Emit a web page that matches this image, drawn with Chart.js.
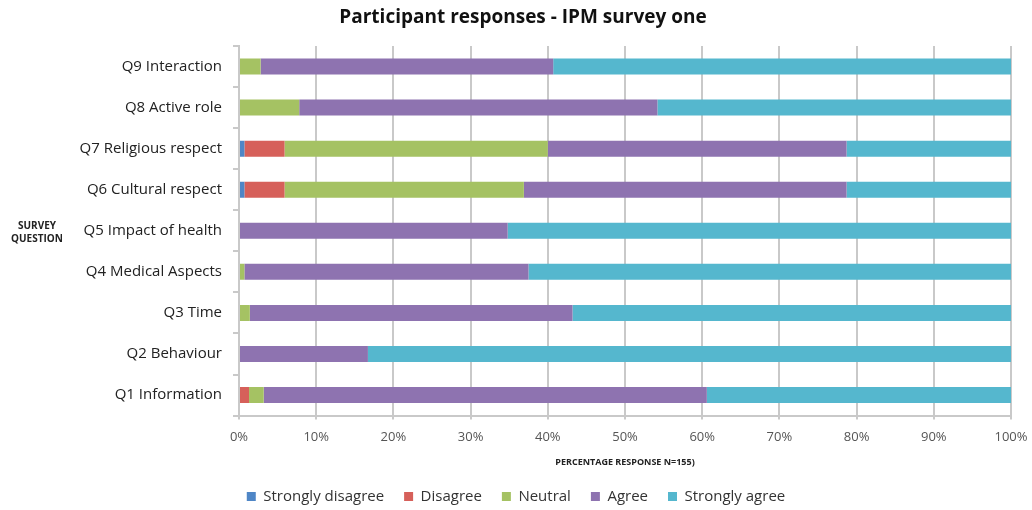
<!DOCTYPE html>
<html lang="en">
<head>
  <meta charset="UTF-8"/>
  <title>Participant responses - IPM survey one</title>
  <style>
    body { margin: 0; background: #fff; }
    .wrap { width: 1032px; height: 510px; position: relative; }
  </style>
  <script src="https://cdn.jsdelivr.net/npm/chart.js"></script>
</head>
<body>
  <div class="wrap"><canvas id="chart"></canvas></div>
  <script>
    // categories, top to bottom
    const questions = ['Q9 Interaction','Q8 Active role','Q7 Religious respect','Q6 Cultural respect',
      'Q5 Impact of health','Q4 Medical Aspects','Q3 Time','Q2 Behaviour','Q1 Information'];
    // percent of responses per question
    const stronglyDisagree = [0, 0, 0.7, 0.7, 0, 0, 0, 0, 0];
    const disagree         = [0, 0, 5.2, 5.2, 0, 0, 0, 0, 1.3];
    const neutral          = [2.8, 7.8, 34.1, 31.0, 0, 0.7, 1.4, 0, 1.9];
    const agree            = [37.9, 46.4, 38.7, 41.8, 34.8, 36.8, 41.8, 16.7, 57.4];
    const stronglyAgree    = [59.3, 45.8, 21.3, 21.3, 65.2, 62.5, 56.8, 83.3, 39.4];
    const xTicks = [0,10,20,30,40,50,60,70,80,90,100];

    const font = "'Open Sans', 'Noto Sans', sans-serif";

    // chart title and the horizontal "SURVEY QUESTION" label
    const extraText = {
      id: 'extraText',
      afterDraw(chart) {
        const ctx = chart.ctx;
        const mid = (chart.chartArea.top + chart.chartArea.bottom) / 2;
        ctx.save();
        ctx.textAlign = 'center';
        ctx.textBaseline = 'middle';
        ctx.fillStyle = '#111';
        ctx.font = 'bold 19px ' + font;
        ctx.fillText('Participant responses - IPM survey one', 523, 18);
        ctx.fillStyle = '#222';
        ctx.font = 'bold 10px ' + font;
        ctx.fillText('SURVEY', 37, mid - 5);
        ctx.fillText('QUESTION', 37, mid + 8);
        ctx.restore();
      }
    };

    new Chart(document.getElementById('chart'), {
      type: 'bar',
      data: {
        labels: questions,
        datasets: [
          { label: 'Strongly disagree', data: stronglyDisagree, backgroundColor: '#4f86c6' },
          { label: 'Disagree',          data: disagree,         backgroundColor: '#d6605a' },
          { label: 'Neutral',           data: neutral,          backgroundColor: '#a5c263' },
          { label: 'Agree',             data: agree,            backgroundColor: '#8e73b0' },
          { label: 'Strongly agree',    data: stronglyAgree,    backgroundColor: '#55b7ce' }
        ]
      },
      options: {
        indexAxis: 'y',
        responsive: true, maintainAspectRatio: false, animation: false,
        datasets: { bar: { categoryPercentage: 1, barPercentage: 0.39 } },
        layout: { padding: { left: 0, right: 0, top: 46, bottom: -4 } },
        scales: {
          x: {
            stacked: true, min: 0, max: 100,
            afterBuildTicks(scale) { scale.ticks = xTicks.map(v => ({ value: v })); },
            afterFit(scale) { scale.paddingRight = 21; },
            ticks: { color: '#555', font: { family: font, size: 13 }, padding: 10,
                     callback: v => v + '%' },
            grid: { color: '#c9c9c9', lineWidth: 2, tickLength: 4 },
            border: { color: '#c9c9c9', width: 2 },
            title: { display: true, text: 'PERCENTAGE RESPONSE N=155)', color: '#222',
                     font: { family: font, size: 9, weight: 'bold' }, padding: { top: 2, bottom: 1 } }
          },
          y: {
            stacked: true,
            afterFit(scale) { scale.width = 239; },
            ticks: { color: '#222', font: { family: font, size: 15 }, padding: 11 },
            grid: { drawOnChartArea: false, color: '#c9c9c9', lineWidth: 2, tickLength: 6 },
            border: { color: '#c9c9c9', width: 2 }
          }
        },
        plugins: {
          title: { display: false },
          legend: {
            position: 'bottom',
            labels: { color: '#333', font: { family: font, size: 15 }, boxWidth: 9, boxHeight: 9,
                      padding: 20 }
          },
          tooltip: { enabled: false }
        }
      },
      plugins: [extraText]
    });
  </script>
</body>
</html>
